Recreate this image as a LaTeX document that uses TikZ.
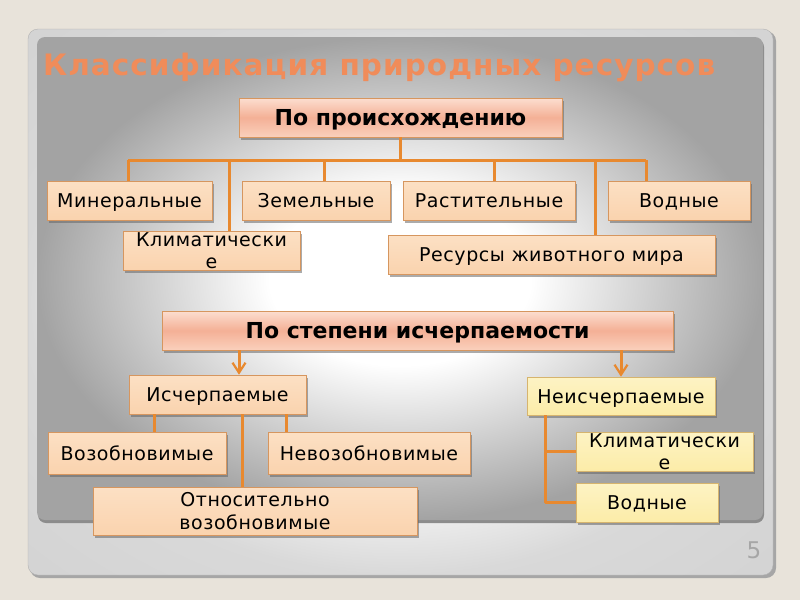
\documentclass[tikz,border=0pt]{standalone}
\usepackage{fontspec}
\setmainfont{DejaVu Sans}
\newfontfamily\boxfont[LetterSpace=3]{DejaVu Sans}
\newfontfamily\headfont{DejaVu Sans Bold}
\newfontfamily\titlefont[LetterSpace=3.5]{DejaVu Sans Bold}
\usetikzlibrary{shadows,arrows.meta}
\definecolor{bgc}{RGB}{232,227,218}
\definecolor{linec}{RGB}{232,137,47}
\definecolor{titlec}{RGB}{240,140,90}
\definecolor{peach}{RGB}{250,211,174}
\definecolor{peachtop}{RGB}{252,224,196}
\definecolor{peachbd}{RGB}{214,150,95}
\definecolor{pinktop}{RGB}{252,222,208}
\definecolor{pinkmid}{RGB}{244,176,150}
\definecolor{pinkbot}{RGB}{250,208,188}
\definecolor{yel}{RGB}{252,236,168}
\definecolor{yeltop}{RGB}{253,243,196}
\definecolor{yelbd}{RGB}{214,180,110}
\definecolor{panelgray}{RGB}{163,163,163}
\pgfdeclareradialshading{panelshade}{\pgfpoint{0bp}{0bp}}{color(0bp)=(white); color(9bp)=(white); color(25bp)=(panelgray); color(50bp)=(panelgray)}
\pgfdeclareradialshading{frameshade}{\pgfpoint{0bp}{0bp}}{color(0bp)=(white); color(15bp)=(white); color(25bp)=(black!15); color(50bp)=(black!20)}
\tikzset{
  box/.style={draw=peachbd, line width=0.6pt, top color=peachtop, bottom color=peach, inner sep=0pt, align=center,
    font=\boxfont\fontsize{19}{22}\selectfont, text=black,
    drop shadow={shadow xshift=2pt, shadow yshift=-3pt, opacity=0.55, fill=black!60}},
  sl/.style={text height=14pt, text depth=0pt},
  headbox/.style={box, top color=pinktop, bottom color=pinkbot, middle color=pinkmid, font=\headfont\fontsize{22}{24}\selectfont, text height=15pt, text depth=0pt},
  ybox/.style={box, draw=yelbd, top color=yeltop, bottom color=yel},
  conn/.style={draw=linec, line width=3pt},
  arr/.style={conn, -{Straight Barb[length=10pt,width=13pt,line width=2.2pt]}}
}
\begin{document}
\begin{tikzpicture}[x=1pt,y=-1pt]
\useasboundingbox (0,0) rectangle (800,600);
\fill[bgc] (0,0) rectangle (800,600);
% outer frame
\fill[black!35, rounded corners=10pt] (30,31) rectangle (776,578);
\shade[shading=frameshade, draw=black!30, rounded corners=10pt] (28,29) rectangle (773,575);
% inner panel
\fill[black!45, rounded corners=8pt] (38,39) rectangle (764,523);
\shade[shading=panelshade, rounded corners=8pt] (37,37) rectangle (763,520);
% title
\node[anchor=west, inner sep=0pt, text=titlec, font=\titlefont\fontsize{29.5}{30}\selectfont] (title) at (43,67) {Классификация природных ресурсов};
% page number
\node[text=black!35, font=\fontsize{23}{23}\selectfont, inner sep=0pt] (pnum) at (754,550) {5};

% connectors top
\coordinate (bL) at (128,160);
\coordinate (bR) at (646,160);
\coordinate (t2) at (229,160);
\coordinate (t3) at (324,160);
\coordinate (t4) at (494,160);
\coordinate (t5) at (595,160);
\coordinate (bus) at (400,160);

% nodes
\node[headbox, minimum width=323pt, minimum height=39pt] (orig) at (400.5,117.5) {По происхождению};
\node[box, sl, minimum width=165pt, minimum height=39pt] (min) at (129.5,200.5) {Минеральные};
\node[box, sl, minimum width=148pt, minimum height=39pt] (zem) at (316,200.5) {Земельные};
\node[box, sl, minimum width=172pt, minimum height=39pt] (rast) at (489,200.5) {Растительные};
\node[box, sl, minimum width=142pt, minimum height=39pt] (vod) at (679,200.5) {Водные};

\draw[conn] (orig.south -| bus) -- (bus);
\draw[conn, line cap=butt] (bL) -- (bR);
\draw[conn] (bL) -- (bL |- min.north);
\draw[conn] (t3) -- (t3 |- zem.north);
\draw[conn] (t4) -- (t4 |- rast.north);
\draw[conn] (bR) -- (bR |- vod.north);

\node[box, minimum width=177pt, minimum height=39pt] (klim) at (211.5,250.5) {Климатически\\е};
\node[box, sl, minimum width=327pt, minimum height=39pt] (res) at (551.5,254.5) {Ресурсы животного мира};
\draw[conn] (t2) -- (t2 |- klim.north);
\draw[conn] (t5) -- (t5 |- res.north);

% second tree
\node[headbox, minimum width=511pt, minimum height=39pt] (stepen) at (417.5,330.5) {По степени исчерпаемости};
\node[box, sl, minimum width=177pt, minimum height=39pt] (isch) at (217.5,394.5) {Исчерпаемые};
\node[ybox, sl, minimum width=188pt, minimum height=38pt] (neisch) at (621,396) {Неисчерпаемые};
\coordinate (a1) at (239,350);
\coordinate (a2) at (621,350);
\draw[arr] (a1) -- (a1 |- isch.north);
\draw[arr] (a2) -- (a2 |- neisch.north);

\coordinate (v1) at (154,414);
\coordinate (v2) at (242,414);
\coordinate (v3) at (286,414);
\node[box, minimum width=324pt, minimum height=48pt, font=\boxfont\fontsize{19}{23}\selectfont] (otn) at (255,511) {Относительно\\возобновимые};
\draw[conn] (v2) -- (v2 |- otn.north);
\node[box, sl, minimum width=178pt, minimum height=42pt] (vozob) at (137,453) {Возобновимые};
\node[box, sl, minimum width=202pt, minimum height=42pt] (nevoz) at (369,453) {Невозобновимые};
\draw[conn] (v1) -- (v1 |- vozob.north);
\draw[conn] (v3) -- (v3 |- nevoz.north);

\coordinate (r0) at (545,415);
\node[ybox, minimum width=177pt, minimum height=39pt] (klim2) at (664.5,451.5) {Климатически\\е};
\node[ybox, sl, minimum width=142pt, minimum height=39pt] (vod2) at (647,502.5) {Водные};
\draw[conn, line join=round] (r0) |- (vod2.west);
\draw[conn] (r0 |- klim2.west) -- (klim2.west);
\end{tikzpicture}
\end{document}
